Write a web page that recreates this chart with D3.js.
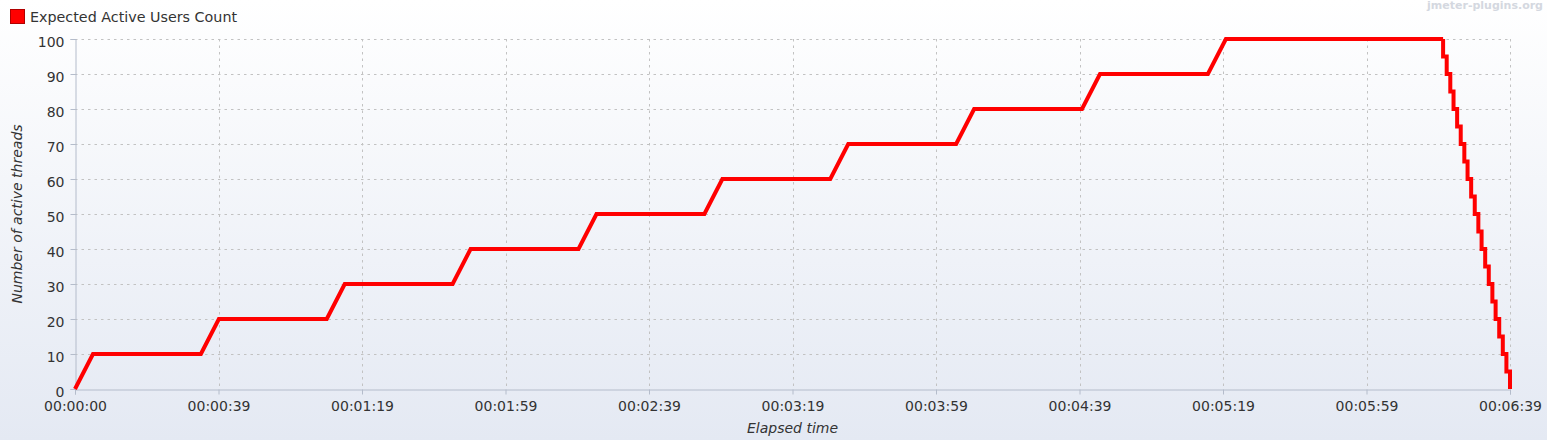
<!DOCTYPE html>
<html>
<head>
<meta charset="utf-8">
<script src="https://cdn.jsdelivr.net/npm/d3@7"></script>
<style>
  body { margin: 0; background: #ffffff; }
  svg { display: block; font-family: "DejaVu Sans", sans-serif; }
</style>
</head>
<body>
<div id="chart"></div>
<script>
const width = 1568
const height = 448
const margin = { left: 75, right: 58, top: 39, bottom: 59 }

// ramp-up: 10 users every 35 s, then hold at 100
const upTimeSec = [0, 5, 35, 40, 70, 75, 105, 110, 140, 145, 175, 180, 210, 215, 245, 250, 280, 285, 315, 320, 380.4]
const upUsers   = [0, 10, 10, 20, 20, 30, 30, 40, 40, 50, 50, 60, 60, 70, 70, 80, 80, 90, 90, 100, 100]

// ramp-down: steps of 5 users
const downTimeSec = [380.4, 380.4, 381.4, 382.4, 383.3, 384.3, 385.3, 386.3, 387.2, 388.2, 389.2, 390.2, 391.1, 392.1, 393.1, 394.1, 395.0, 396.0, 397.0, 398.0, 399.0]
const downUsers   = [100, 95, 90, 85, 80, 75, 70, 65, 60, 55, 50, 45, 40, 35, 30, 25, 20, 15, 10, 5, 0]

const xTickSec = [0, 39.9, 79.8, 119.7, 159.6, 199.5, 239.4, 279.3, 319.2, 359.1, 399]
const xTickLabels = ["00:00:00", "00:00:39", "00:01:19", "00:01:59", "00:02:39", "00:03:19", "00:03:59", "00:04:39", "00:05:19", "00:05:59", "00:06:39"]
const yTicks = [0, 10, 20, 30, 40, 50, 60, 70, 80, 90, 100]

const seriesName = "Expected Active Users Count"

const svg = d3.select("#chart").append("svg").attr("width", width).attr("height", height)

// background panel gradient
const defs = svg.append("defs")
const grad = defs.append("linearGradient").attr("id", "bg")
    .attr("x1", 0).attr("y1", 0).attr("x2", 0).attr("y2", 1)
grad.append("stop").attr("offset", "0%").attr("stop-color", "#ffffff")
grad.append("stop").attr("offset", "100%").attr("stop-color", "#e4e9f3")
svg.append("rect").attr("x", 0).attr("y", 0).attr("width", 1547).attr("height", 440).attr("fill", "url(#bg)")

const x = d3.scaleLinear().domain([0, 399]).range([margin.left, width - margin.right])
const y = d3.scaleLinear().domain([0, 100]).range([height - margin.bottom, margin.top])

// grid
const grid = svg.append("g").attr("id", "grid")
grid.selectAll("line.h").data(yTicks.filter(d => d > 0)).join("line")
    .attr("x1", x(0)).attr("x2", x(399))
    .attr("y1", d => y(d) + 0.5).attr("y2", d => y(d) + 0.5)
    .attr("stroke", "#c2c2c2").attr("stroke-dasharray", "2.5,4")
grid.selectAll("line.v").data(xTickSec.filter(d => d > 0)).join("line")
    .attr("x1", d => Math.round(x(d)) + 0.5).attr("x2", d => Math.round(x(d)) + 0.5)
    .attr("y1", y(100)).attr("y2", y(0))
    .attr("stroke", "#c2c2c2").attr("stroke-dasharray", "2.5,4")

// axes
const axisColor = "#b4bccb"
const axisX = d3.axisBottom(x).tickValues(xTickSec)
    .tickFormat((d, i) => xTickLabels[i]).tickSize(5).tickPadding(6)
const axisY = d3.axisLeft(y).tickValues(yTicks).tickSize(5).tickPadding(6)

const xGroup = svg.append("g").attr("transform", `translate(0, ${y(0) + 0.5})`).call(axisX)
const yGroup = svg.append("g").attr("transform", `translate(${x(0) + 0.5}, 0)`).call(axisY)
;[xGroup, yGroup].forEach(g => {
    g.select(".domain").attr("stroke", axisColor)
    g.selectAll(".tick line").attr("stroke", axisColor)
    g.selectAll("text").attr("fill", "#333333").attr("font-size", 14)
        .attr("font-family", "DejaVu Sans")
})
yGroup.selectAll("text").attr("dy", "0.52em")
xGroup.selectAll("text").attr("dy", "0.75em")

// series
const line = d3.line().x(d => x(d[0])).y(d => y(d[1]))
svg.append("path")
    .datum(upTimeSec.map((t, i) => [t, upUsers[i]]))
    .attr("d", line)
    .attr("fill", "none").attr("stroke", "#ff0000").attr("stroke-width", 4)
svg.append("path")
    .datum(downTimeSec.map((t, i) => [t, downUsers[i]]))
    .attr("d", line.curve(d3.curveStepAfter))
    .attr("fill", "none").attr("stroke", "#ff0000").attr("stroke-width", 4)

// legend
svg.append("rect").attr("x", 10.5).attr("y", 9.5).attr("width", 14).attr("height", 14)
    .attr("fill", "#ff0000").attr("stroke", "#b00000")
svg.append("text").text(seriesName)
    .attr("x", 30).attr("y", 22).attr("font-size", 14.3).attr("fill", "#333333")

// watermark
svg.append("text").text("jmeter-plugins.org")
    .attr("x", 1543).attr("y", 9).attr("text-anchor", "end")
    .attr("font-size", 11).attr("font-weight", "bold").attr("fill", "#d4d8e0")

// axis titles
svg.append("text").text("Elapsed time")
    .attr("x", (x(0) + x(399)) / 2).attr("y", 433)
    .attr("text-anchor", "middle").attr("font-size", 14).attr("font-style", "italic").attr("fill", "#333333")
svg.append("text").text("Number of active threads")
    .attr("transform", `translate(22, ${(y(0) + y(100)) / 2}) rotate(-90)`)
    .attr("text-anchor", "middle").attr("font-size", 14).attr("font-style", "italic").attr("fill", "#333333")
</script>
</body>
</html>
